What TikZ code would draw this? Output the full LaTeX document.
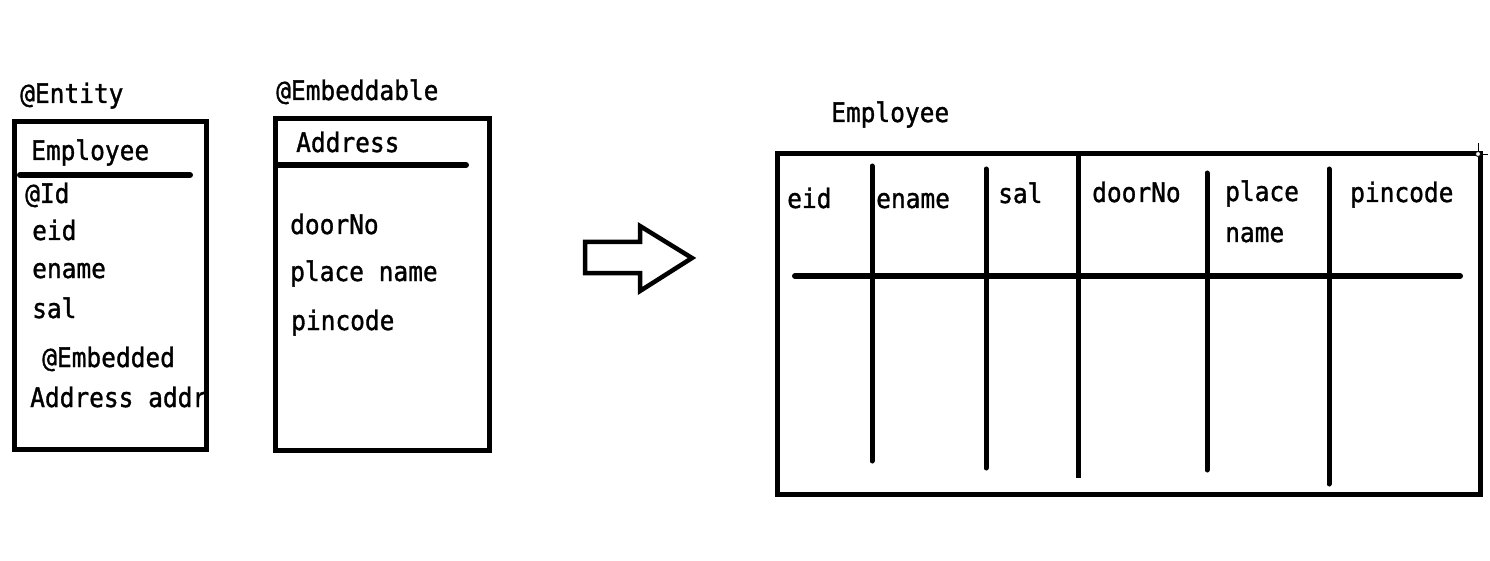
\documentclass[tikz,border=0pt]{standalone}
\usepackage{fontspec}
\usepackage{graphicx}
\newfontfamily\monof[FakeBold=1.3]{DejaVu Sans Mono}
\newcommand{\tall}[1]{\scalebox{1}[1.1]{#1}}
\begin{document}
\begin{tikzpicture}[x=1pt,y=-1pt,
  txt/.style={anchor=base west, inner sep=0pt, font=\monof\fontsize{24.5}{29}\selectfont},
  frame/.style={draw=black, line width=5pt},
  rule/.style={draw=black, line width=6pt, line cap=round},
  col/.style={draw=black, line width=5pt, line cap=round}]
\useasboundingbox (0,0) rectangle (1490,561);
\fill[white] (0,0) rectangle (1490,561);

% ---------- Entity class ----------
\node[txt] (entityAnn) at (20,103) {\tall{@Entity}};
\node[txt] (empName) at (31,160) {\tall{Employee}};
\node[txt] (idAnn) at (25,203) {\tall{@Id}};
\node[txt] (eidL) at (32,240) {\tall{eid}};
\node[txt] (enameL) at (32,278) {\tall{ename}};
\node[txt] (salL) at (32,318) {\tall{sal}};
\node[txt] (embAnn) at (42,367) {\tall{@Embedded}};
\node[txt] (addrF) at (30,407) {\tall{Address addr}};
\fill[white] (208,380) rectangle (240,420);
\draw[frame] (14,122) rectangle (206,449);
\draw[rule] (20,175) -- (190,175);

% ---------- Embeddable class ----------
\node[txt] (embdAnn) at (276,100) {\tall{@Embeddable}};
\node[txt] (addrName) at (296,152) {\tall{Address}};
\node[txt] (doorL) at (290,234) {\tall{doorNo}};
\node[txt] (placeL) at (290,281) {\tall{place name}};
\node[txt] (pinL) at (291,330) {\tall{pincode}};
\draw[frame] (275,119) rectangle (489,450);
\draw[rule] (277,165) -- (466,165);

% ---------- block arrow ----------
\draw[black, line width=4.5pt, line join=miter]
  (585,242) -- (640,242) -- (640,226) -- (692,258) -- (640,291)
  -- (640,273) -- (585,273) -- cycle;

% ---------- Table ----------
\node[txt] (tblName) at (831,122) {\tall{Employee}};
\coordinate (tl) at (777,154);
\coordinate (br) at (1480,494);
\draw[frame] (tl) rectangle (br);
\node[txt] (cEid) at (787,208) {\tall{eid}};
\node[txt] (cEname) at (876,208) {\tall{ename}};
\node[txt] (cSal) at (998,203) {\tall{sal}};
\node[txt] (cDoor) at (1092,202) {\tall{doorNo}};
\node[txt] (cPlace) at (1225,201) {\tall{place}};
\node[txt] (cName) at (1225,242) {\tall{name}};
\node[txt] (cPin) at (1350,202) {\tall{pincode}};
\draw[rule] (795,276) -- (1460,276);
\draw[col] (872,166) -- (872,461);
\draw[col] (986,169) -- (986,468);
\draw[col, line cap=butt] (1078,154) -- (1078,478);
\draw[col] (1207,173) -- (1207,470);
\draw[col] (1329,169) -- (1329,484);

% cursor mark at table corner
\draw[black, line width=0.8pt] (1478,143) -- (1478,166);
\draw[black, line width=0.8pt] (1468,154) -- (1488,154);
\draw[black, fill=white, line width=0.8pt] (1478,154) circle (2.5);
\end{tikzpicture}
\end{document}
